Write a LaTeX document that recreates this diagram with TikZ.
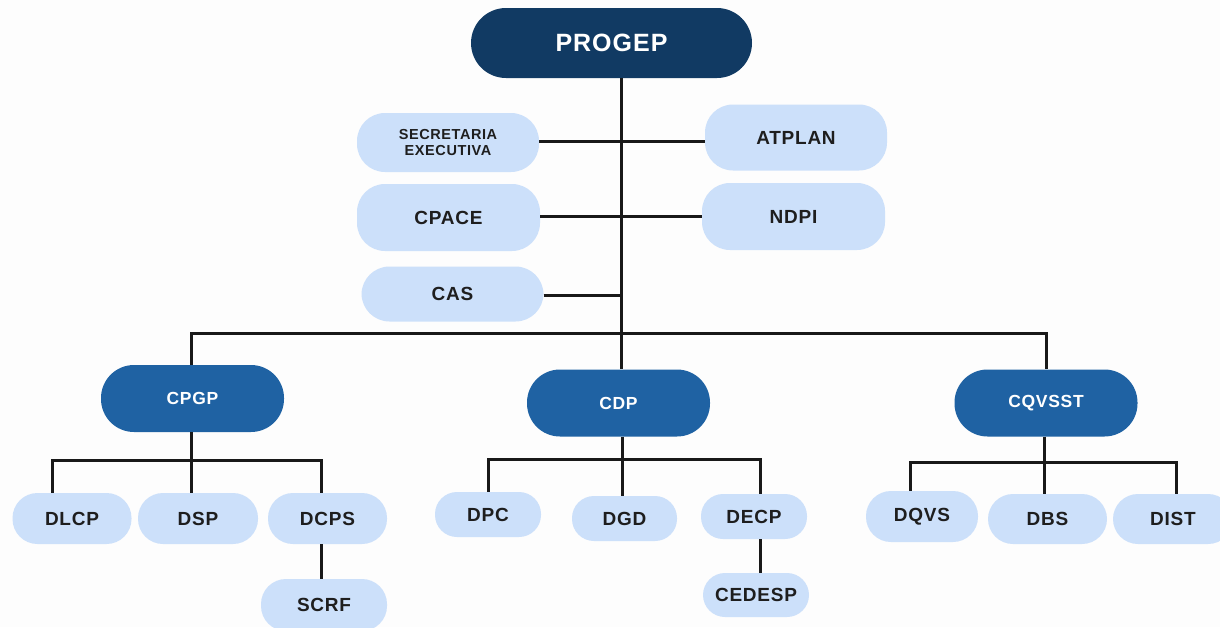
\documentclass[tikz,border=0pt]{standalone}
\usepackage{fontspec}
\setmainfont{Liberation Sans}[LetterSpace=4]
\definecolor{bgc}{HTML}{FDFDFD}
\definecolor{darkb}{HTML}{113A63}
\definecolor{midb}{HTML}{1F62A3}
\definecolor{lightb}{HTML}{CCE0FA}
\definecolor{txt}{HTML}{1E1E1E}
\tikzset{
  topbox/.style={rectangle, rounded corners=35pt, fill=darkb, text=white, font=\bfseries\fontsize{25}{28}\selectfont, minimum width=281, minimum height=70, inner sep=0pt},
  midbox/.style={rectangle, rounded corners=33pt, fill=midb, text=white, font=\bfseries\fontsize{17.5}{20}\selectfont, minimum width=183, minimum height=67, inner sep=0pt},
  lbox/.style={rectangle, rounded corners=28pt, fill=lightb, text=txt, font=\bfseries\fontsize{19}{22}\selectfont, inner sep=0pt},
  conn/.style={line width=3pt, black!90}
}
\begin{document}
\begin{tikzpicture}[x=1pt,y=-1pt]
\useasboundingbox[fill=bgc] (0,0) rectangle (1220,627);
% top
\node[topbox] (progep) at (611.5,43) {PROGEP};
\node[lbox, minimum width=182, minimum height=59, font=\bfseries\fontsize{14.5}{17}\selectfont, align=center] (se) at (448,142.5) {SECRETARIA\\[-1pt]EXECUTIVA};
\node[lbox, minimum width=182, minimum height=66] (atplan) at (796,137.5) {ATPLAN};
\node[lbox, minimum width=183, minimum height=67] (cpace) at (448.5,217.5) {CPACE};
\node[lbox, minimum width=183, minimum height=67] (ndpi) at (793.5,216.5) {NDPI};
\node[lbox, minimum width=182, minimum height=55] (cas) at (452.5,294) {CAS};
% coordinates
\coordinate (spine) at (621,333);
\coordinate (r1) at (621,141.5);
\coordinate (r2) at (621,216);
\coordinate (r3) at (621,295);
% middle
\node[midbox] (cpgp) at (192.5,398.5) {CPGP};
\node[midbox] (cdp) at (618.5,403) {CDP};
\node[midbox] (cqvsst) at (1046,403) {CQVSST};
% leaves
\node[lbox, minimum width=119, minimum height=51, rounded corners=25pt] (dlcp) at (72,518.5) {DLCP};
\node[lbox, minimum width=120, minimum height=51, rounded corners=25pt] (dsp) at (198,518.5) {DSP};
\node[lbox, minimum width=119, minimum height=51, rounded corners=25pt] (dcps) at (327.5,518.5) {DCPS};
\node[lbox, minimum width=126, minimum height=52, rounded corners=25pt] (scrf) at (324,605) {SCRF};
\node[lbox, minimum width=106, minimum height=45, rounded corners=22pt] (dpc) at (488,514.5) {DPC};
\node[lbox, minimum width=105, minimum height=45, rounded corners=22pt] (dgd) at (624.5,518.5) {DGD};
\node[lbox, minimum width=106, minimum height=45, rounded corners=22pt] (decp) at (754,516.5) {DECP};
\node[lbox, minimum width=106, minimum height=44, rounded corners=22pt] (cedesp) at (756,595) {CEDESP};
\node[lbox, minimum width=112, minimum height=51, rounded corners=25pt] (dqvs) at (922,516.5) {DQVS};
\node[lbox, minimum width=119, minimum height=50, rounded corners=25pt] (dbs) at (1047.5,519) {DBS};
\node[lbox, minimum width=120, minimum height=50, rounded corners=25pt] (dist) at (1173,519) {DIST};
% sub-bus coordinates
\coordinate (a1) at (52,460);
\coordinate (a2) at (191,460);
\coordinate (a3) at (321,460);
\coordinate (b1) at (488,459);
\coordinate (b2) at (622,459);
\coordinate (b3) at (760,459);
\coordinate (c1) at (910,462);
\coordinate (c2) at (1044,462);
\coordinate (c3) at (1176,462);
% connectors top
\draw[conn] (progep.south -| spine) -- (spine);
\draw[conn] (se.east |- r1) -- (atplan.west |- r1);
\draw[conn] (cpace.east |- r2) -- (ndpi.west |- r2);
\draw[conn] (cas.east |- r3) -- (r3);
\draw[conn] (cpgp.north -| a2) -- (a2 |- spine) -- (cqvsst.north |- spine) -- (cqvsst.north);
\draw[conn] (spine) -- (cdp.north -| spine);
% sub trees
\draw[conn] (cpgp.south -| a2) -- (a2);
\draw[conn] (dlcp.north -| a1) -- (a1) -- (a3) -- (dcps.north -| a3);
\draw[conn] (a2) -- (dsp.north -| a2);
\draw[conn] (dcps.south -| a3) -- (scrf.north -| a3);
\draw[conn] (cdp.south -| b2) -- (b2);
\draw[conn] (dpc.north -| b1) -- (b1) -- (b3) -- (decp.north -| b3);
\draw[conn] (b2) -- (dgd.north -| b2);
\draw[conn] (decp.south -| b3) -- (cedesp.north -| b3);
\draw[conn] (cqvsst.south -| c2) -- (c2);
\draw[conn] (dqvs.north -| c1) -- (c1) -- (c3) -- (dist.north -| c3);
\draw[conn] (c2) -- (dbs.north -| c2);
\end{tikzpicture}
\end{document}
